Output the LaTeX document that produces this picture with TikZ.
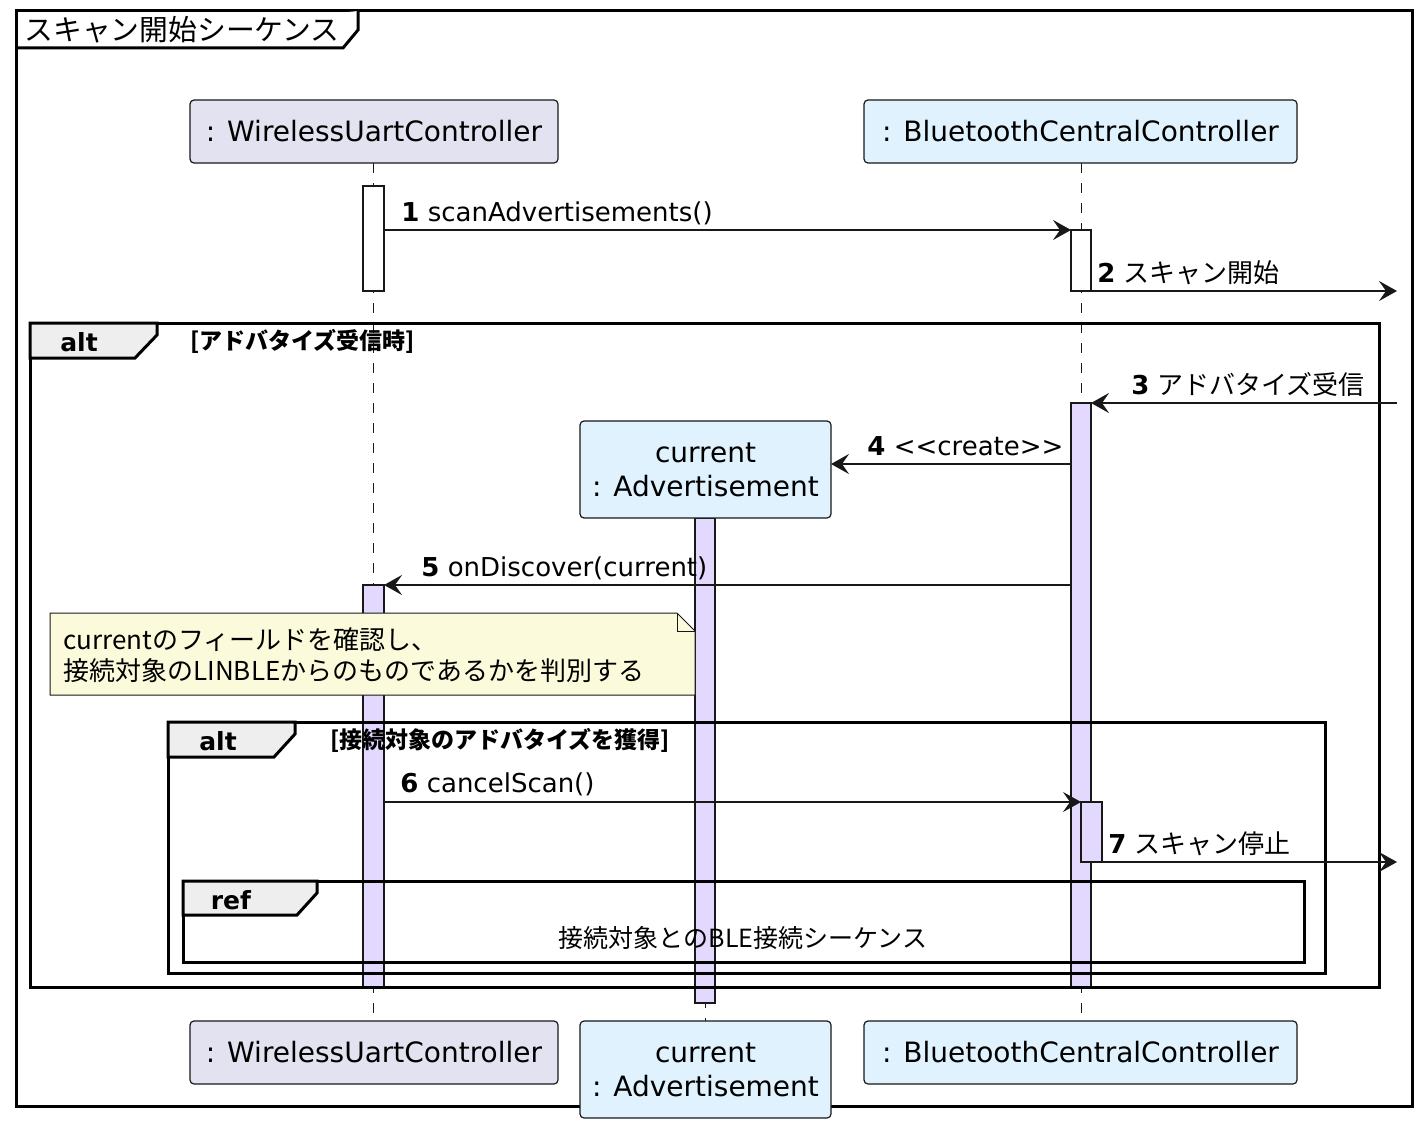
\documentclass[tikz,border=0pt]{standalone}
\usepackage{fontspec}
\setmainfont{DejaVu Sans}
\newfontfamily\jp{Noto Sans CJK JP}
\usetikzlibrary{arrows.meta}
\definecolor{lav}{HTML}{E2E2F0}
\definecolor{lblue}{HTML}{DFF2FD}
\definecolor{actv}{HTML}{E3D9FF}
\definecolor{notey}{HTML}{FBFBDB}
\definecolor{tabg}{HTML}{EEEEEE}
\definecolor{ln}{HTML}{181818}
\begin{document}
\begin{tikzpicture}[x=0.5pt,y=-0.5pt,
  frm/.style={line width=1.5pt, draw=black},
  part/.style={draw=ln, line width=0.6pt, rounded corners=2pt, inner sep=0pt, font=\fontsize{14}{17}\selectfont, align=center},
  lifeline/.style={draw=ln, line width=0.5pt, dash pattern=on 5pt off 5pt},
  actbox/.style={draw=ln, line width=0.75pt, fill=actv, inner sep=0pt},
  whitebox/.style={draw=ln, line width=0.75pt, fill=white, inner sep=0pt},
  msg/.style={draw=ln, line width=0.8pt, -{Stealth[length=9pt,width=10pt,inset=3.5pt]}},
  lbl/.style={anchor=base west, inner sep=0pt, font=\fontsize{13}{15}\selectfont},
  grp/.style={anchor=base west, inner sep=0pt, font=\jp\bfseries\fontsize{11.5}{13}\selectfont},
  tab/.style={frm, fill=tabg},
  tabtxt/.style={anchor=base, inner sep=0pt, font=\bfseries\fontsize{12.5}{14}\selectfont},
  notetxt/.style={anchor=base west, inner sep=0pt, font=\jp\fontsize{13}{15}\selectfont},
]
\useasboundingbox (0,0) rectangle (1422,1129);
\fill[white] (0,0) rectangle (1422,1129);

% outer frame and title tab
\draw[frm] (16,11) rectangle (1412,1106);
\draw[frm, fill=white] (16,48) -- (343,48) -- (358,30) -- (358,11);
\node[anchor=base west, inner sep=0pt, font=\jp\fontsize{14.4}{16}\selectfont] (title) at (24,41) {スキャン開始シーケンス};

% lifelines
\draw[lifeline] (373,163) -- (373,1021);
\draw[lifeline] (1081,163) -- (1081,1021);
\draw[lifeline] (705,518) -- (705,1021);

% activations
\node[whitebox, minimum width=10.5pt, minimum height=52.5pt] (a1) at (373.5,238.5) {};
\node[whitebox, minimum width=10pt, minimum height=30.5pt] (a2) at (1081,260.5) {};
\node[actbox, minimum width=10pt, minimum height=292pt] (a3) at (1081,695) {};
\node[actbox, minimum width=10pt, minimum height=242.5pt] (a4) at (705,760.5) {};
\node[actbox, minimum width=10.5pt, minimum height=201pt] (a5) at (373.5,786) {};
\node[actbox, minimum width=10.5pt, minimum height=30pt] (a6) at (1091.5,832) {};

% alt 1
\draw[frm] (30,323) rectangle (1379,987);
\draw[tab] (30,323) -- (157,323) -- (157,335) -- (135,358) -- (30,358) -- cycle;
\node[tabtxt] (alt1) at (79,351) {alt};
\node[grp] (g1) at (190,349) {[アドバタイズ受信時]};

% alt 2
\draw[frm] (168,722) rectangle (1325,973);
\draw[tab] (168,722) -- (295,722) -- (295,734) -- (274,757) -- (168,757) -- cycle;
\node[tabtxt] (alt2) at (218,750) {alt};
\node[grp] (g2) at (330,748) {[接続対象のアドバタイズを獲得]};

% ref
\draw[frm] (183,881) rectangle (1304,962);
\draw[tab] (183,881) -- (317,881) -- (317,893) -- (297,915) -- (183,915) -- cycle;
\node[tabtxt] (reft) at (231,909) {ref};
\node[anchor=base, inner sep=0pt, font=\jp\fontsize{12.5}{14}\selectfont] (refc) at (743,947) {接続対象とのBLE接続シーケンス};

% note
\draw[draw=ln, line width=0.5pt, fill=notey] (50,613) -- (677,613) -- (695,631) -- (695,695) -- (50,695) -- cycle;
\draw[draw=ln, line width=0.5pt] (677,613) -- (677,631) -- (695,631);
\node[notetxt] (n1) at (63,649) {currentのフィールドを確認し、};
\node[notetxt] (n2) at (63,680) {接続対象のLINBLEからのものであるかを判別する};

% message endpoints
\coordinate (m1s) at (384,230); \coordinate (m1e) at (1071,230);
\coordinate (m2s) at (1091,291); \coordinate (m2e) at (1397,291);
\coordinate (m3s) at (1397,403); \coordinate (m3e) at (1091,403);
\coordinate (m4s) at (1071,464); \coordinate (m4e) at (831,464);
\coordinate (m5s) at (1071,585); \coordinate (m5e) at (384,585);
\coordinate (m6s) at (384,802); \coordinate (m6e) at (1081,802);
\coordinate (m7s) at (1102,862); \coordinate (m7e) at (1397,862);

\draw[msg] (m1s) -- (m1e);
\draw[msg] (m2s) -- (m2e);
\draw[msg] (m3s) -- (m3e);
\draw[msg] (m4s) -- (m4e);
\draw[msg] (m5s) -- (m5e);
\draw[msg] (m6s) -- (m6e);
\draw[msg] (m7s) -- (m7e);

\node[lbl] (l1) at (401,221) {\textbf{1} scanAdvertisements()};
\node[lbl] (l2) at (1097,282) {\textbf{2} {\jp スキャン開始}};
\node[lbl] (l3) at (1131,394) {\textbf{3} {\jp アドバタイズ受信}};
\node[lbl] (l4) at (867,455) {\textbf{4} <{}<create>{}>};
\node[lbl] (l5) at (421,576) {\textbf{5} onDiscover(current)};
\node[lbl] (l6) at (400,792) {\textbf{6} cancelScan()};
\node[lbl] (l7) at (1108,853) {\textbf{7} {\jp スキャン停止}};

% participants top
\node[part, fill=lav, minimum width=184pt, minimum height=31.5pt] (wuc) at (374,131.5) {: WirelessUartController};
\node[part, fill=lblue, minimum width=216.5pt, minimum height=31.5pt] (btc) at (1080.5,131.5) {: BluetoothCentralController};
\node[part, fill=lblue, minimum width=125.5pt, minimum height=48.5pt] (cur) at (705.5,469.5) {current\\: Advertisement};

% participants bottom
\node[part, fill=lav, minimum width=184pt, minimum height=31.5pt] (wucb) at (374,1052.5) {: WirelessUartController};
\node[part, fill=lblue, minimum width=125.5pt, minimum height=48.5pt] (curb) at (705.5,1069.5) {current\\: Advertisement};
\node[part, fill=lblue, minimum width=216.5pt, minimum height=31.5pt] (btcb) at (1080.5,1052.5) {: BluetoothCentralController};
\end{tikzpicture}
\end{document}
